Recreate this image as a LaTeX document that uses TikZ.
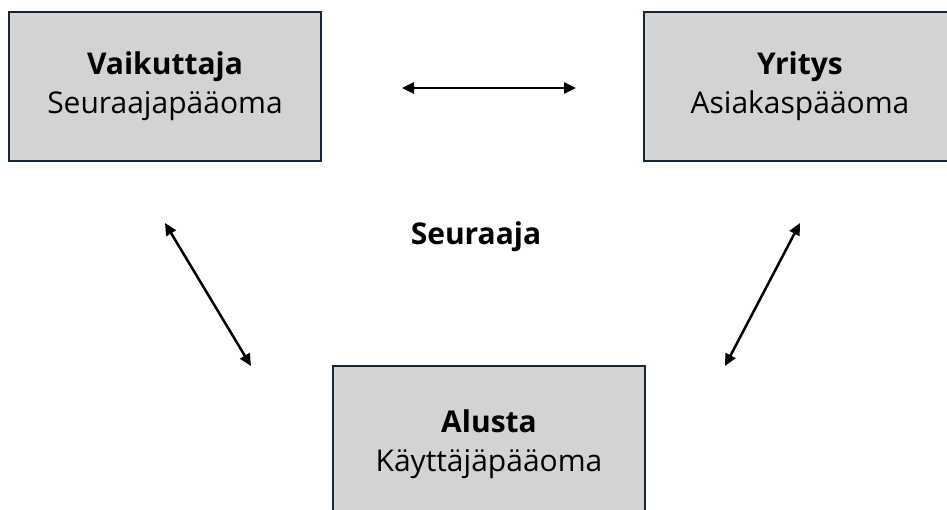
\documentclass[tikz,border=0pt]{standalone}
\usepackage{fontspec}
\setmainfont{Open Sans}
\usetikzlibrary{arrows.meta}
\definecolor{boxfill}{RGB}{211,211,211}
\definecolor{boxline}{RGB}{22,38,52}
\tikzset{
  capbox/.style={draw=boxline, line width=2pt, fill=boxfill, rectangle,
    minimum width=312pt, minimum height=149pt, inner sep=0pt, align=center,
    font=\fontsize{30}{39}\selectfont},
  link/.style={line width=2.5pt, {Triangle[length=12pt,width=11pt]}-{Triangle[length=12pt,width=11pt]}}
}
\begin{document}
\begin{tikzpicture}[x=1pt,y=-1pt]
\useasboundingbox (0,0) rectangle (947,509);
\clip (0,0) rectangle (947,509);
\node[capbox] (vai) at (165,86.5) {\textbf{Vaikuttaja}\\Seuraajapääoma};
\node[capbox] (yri) at (800,86.5) {\textbf{Yritys}\\Asiakaspääoma};
\node[capbox, text depth=0pt] (alu) at (489,440.5) {\textbf{Alusta}\\Käyttäjäpääoma\rule[-8pt]{0pt}{0pt}};
\node[font=\fontsize{30}{36}\selectfont\bfseries] (seu) at (476,237) {Seuraaja};
\coordinate (h1) at (402,88);
\coordinate (h2) at (576,88);
\coordinate (l1) at (165,223);
\coordinate (l2) at (251,366);
\coordinate (r1) at (800,223);
\coordinate (r2) at (725,366);
\draw[link] (h1) -- (h2);
\draw[link] (l1) -- (l2);
\draw[link] (r1) -- (r2);
\end{tikzpicture}
\end{document}
